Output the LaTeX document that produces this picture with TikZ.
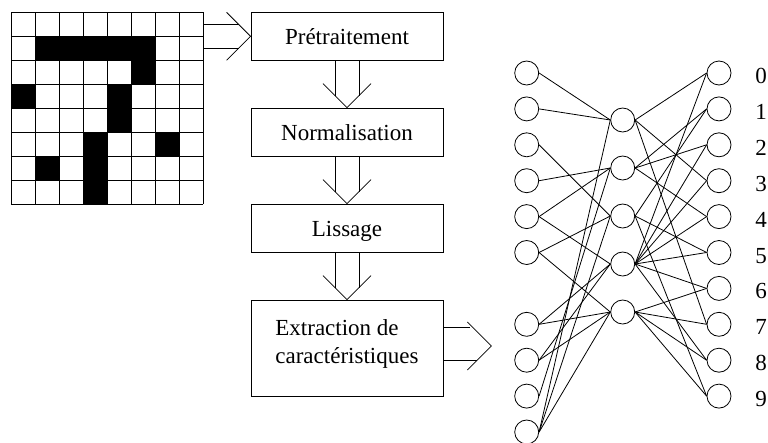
\documentclass[tikz,border=0pt]{standalone}
\usepackage{fontspec}
\setmainfont{Liberation Serif}
\usetikzlibrary{calc}
\begin{document}
\begin{tikzpicture}[x=1pt,y=-1pt,line width=0.8pt,
  box/.style={draw,minimum width=192pt,minimum height=48pt,inner sep=0pt,text height=17pt,text depth=0pt,font=\fontsize{23}{28}\selectfont},
  txt/.style={font=\fontsize{23}{28}\selectfont,anchor=base west,inner sep=0pt},
  neuron/.style={draw,circle,minimum size=24pt,inner sep=0pt},
  conn/.style={line width=0.8pt}]
\useasboundingbox (0,0) rectangle (768,442);
\clip (0,0) rectangle (768,442);
% grid
\node[minimum size=192pt,inner sep=0pt] (g) at (107,108) {};
\foreach \r/\c in {1/1,1/2,1/3,1/4,1/5,2/5,3/0,3/4,4/4,5/3,5/6,6/1,6/3,7/3}
  \fill (11+24*\c,12+24*\r) rectangle (35+24*\c,36+24*\r);
\foreach \i in {0,...,8} {
  \draw (11+24*\i,12) -- (11+24*\i,204);
  \draw (11,12+24*\i) -- (203,12+24*\i);
}
% boxes
\node[box] (b1) at (347,36.3) {Prétraitement};
\node[box] (b2) at (347,132) {Normalisation};
\node[box] (b3) at (347,228) {Lissage};
\node[box,minimum height=96pt] (b4) at (347,348) {};
\node[txt] (t4a) at (275,335) {Extraction de};
\node[txt] (t4b) at (275,363.5) {caractéristiques};
% top arrow
\draw ($(g.east|-b1.center)+(0,-12)$) -- ($(b1.west)+(-12,-12)$);
\draw ($(g.east|-b1.center)+(0,12)$) -- ($(b1.west)+(-12,12)$);
\draw ($(b1.west)+(-24,-24)$) -- (b1.west) -- ($(b1.west)+(-24,24)$);
% down arrows
\foreach \p/\n in {b1/b2,b2/b3,b3/b4} {
  \draw ($(\p.south)+(-12,0)$) -- ($(\n.north)+(-12,-12)$);
  \draw ($(\p.south)+(12,0)$) -- ($(\n.north)+(12,-12)$);
  \draw ($(\n.north)+(-24,-24)$) -- (\n.north) -- ($(\n.north)+(24,-24)$);
}
% right arrow
\coordinate (tipR) at ($(b4.east)+(48,-2)$);
\draw ($(b4.east)+(0,-21)$) -- ($(b4.east)+(27,-21)$);
\draw ($(b4.east)+(0,12)$) -- ($(b4.east)+(34,12)$);
\draw ($(tipR)+(-24,-24)$) -- (tipR) -- ($(tipR)+(-24,24)$);
% network nodes
\foreach \i/\y in {0/73,1/108.9,2/144.8,3/180.7,4/216.6,5/252.5,6/324.3,7/360.2,8/396.1,9/432}
  \node[neuron] (l\i) at (526.7,\y) {};
\foreach \i/\y in {0/120,1/168,2/216,3/264,4/312}
  \node[neuron] (m\i) at (622.7,\y) {};
\foreach \i/\y in {0/73,1/108.9,2/144.8,3/180.7,4/216.6,5/252.5,6/288.4,7/324.3,8/360.2,9/396.1}
  \node[neuron] (r\i) at (719,\y) {};
\foreach \i in {0,...,9}
  \node[txt] (d\i) at ($(r\i)+(36,10.5)$) {\i};
% left connections
\foreach \a/\b in {0/0,1/0,2/2,3/1,4/1,4/3,5/2,5/4,6/3,6/4,7/3,7/4,8/1,9/0,9/2,9/4}
  \draw[conn] (l\a.east) -- (m\b.west);
% right connections
\foreach \a/\b in {0/0,0/3,0/7,1/1,1/2,1/4,2/1,2/5,2/9,3/0,3/2,3/3,3/4,3/5,3/6,3/8,4/6,4/7,4/8,4/9}
  \draw[conn] (m\a.east) -- (r\b.west);
\end{tikzpicture}
\end{document}
